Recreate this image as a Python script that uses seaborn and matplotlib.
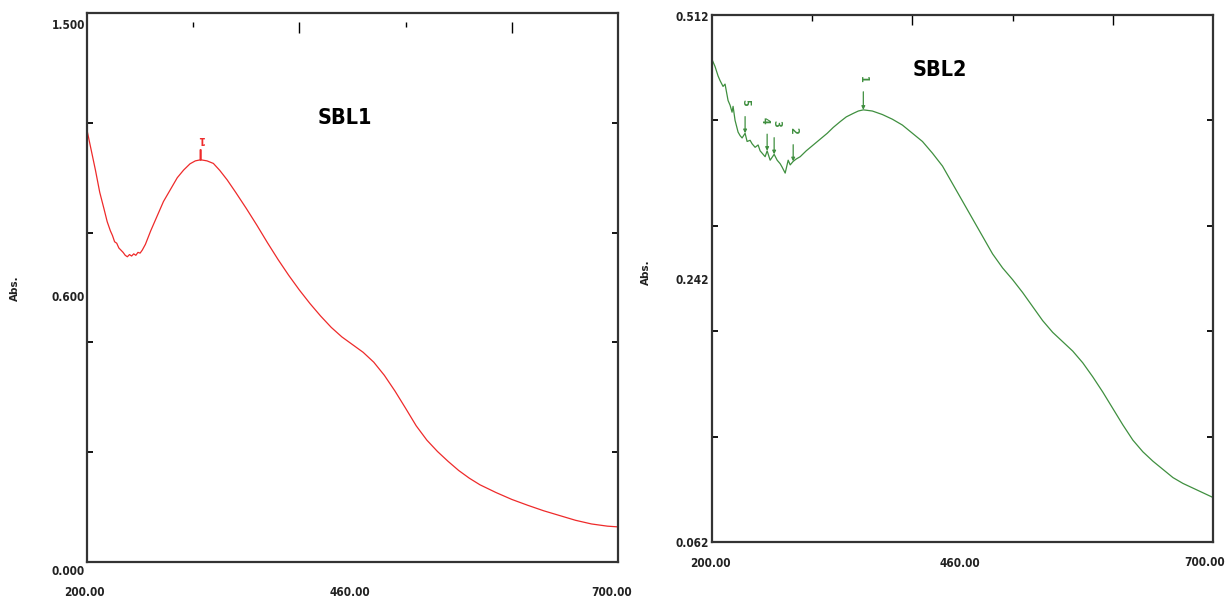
import numpy as np
import pandas as pd
import matplotlib
matplotlib.use('Agg')
import matplotlib.pyplot as plt
import matplotlib.transforms as mtransforms
from matplotlib import font_manager
import seaborn as sns

# SBL1 spectrum (wavelength nm, absorbance)
sbl1_nm = [200, 204, 208, 212, 216, 219, 222, 224, 226, 228, 230, 232, 234, 236, 238, 240,
           242, 244, 246, 248, 250, 252, 255, 260, 266, 272, 279, 285, 291, 297, 302, 307,
           313, 319, 325, 332, 340, 350, 360, 370, 380, 390, 400, 410, 420, 430, 440, 450,
           460, 470, 480, 490, 500, 510, 520, 530, 540, 550, 560, 570, 585, 600, 615, 630,
           645, 660, 675, 690, 700]
sbl1_abs = [1.180, 1.125, 1.070, 1.010, 0.965, 0.930, 0.905, 0.892, 0.875, 0.871, 0.858, 0.852,
            0.846, 0.838, 0.834, 0.840, 0.836, 0.842, 0.838, 0.846, 0.844, 0.852, 0.868, 0.905,
            0.945, 0.985, 1.020, 1.050, 1.071, 1.088, 1.096, 1.099, 1.096, 1.089, 1.070, 1.044,
            1.010, 0.966, 0.920, 0.872, 0.826, 0.783, 0.743, 0.706, 0.672, 0.641, 0.615, 0.594,
            0.573, 0.546, 0.510, 0.467, 0.420, 0.372, 0.333, 0.302, 0.275, 0.250, 0.229, 0.211,
            0.190, 0.171, 0.155, 0.140, 0.127, 0.114, 0.104, 0.098, 0.096]

# SBL2 spectrum
sbl2_nm = [200, 203, 206, 208, 211, 213, 216, 218, 220, 221, 223, 226, 228, 230, 233, 235,
           238, 240, 243, 246, 248, 250, 253, 255, 258, 262, 265, 268, 270, 273, 276, 278,
           281, 284, 288, 294, 301, 308, 315, 321, 328, 334, 341, 346, 351, 360, 370, 380,
           390, 400, 410, 420, 430, 440, 450, 460, 470, 480, 490, 500, 510, 520, 530, 540,
           550, 560, 570, 580, 590, 600, 610, 620, 630, 640, 650, 660, 670, 680, 690, 700]
sbl2_abs = [0.474, 0.468, 0.460, 0.456, 0.451, 0.453, 0.439, 0.435, 0.429, 0.434, 0.422, 0.412,
            0.409, 0.407, 0.411, 0.404, 0.405, 0.402, 0.399, 0.401, 0.396, 0.394, 0.391, 0.396,
            0.388, 0.393, 0.388, 0.385, 0.382, 0.377, 0.388, 0.384, 0.387, 0.389, 0.391, 0.396,
            0.401, 0.406, 0.411, 0.416, 0.421, 0.425, 0.428, 0.430, 0.431, 0.430, 0.427, 0.423,
            0.418, 0.411, 0.404, 0.394, 0.383, 0.368, 0.353, 0.338, 0.323, 0.308, 0.296, 0.286,
            0.275, 0.263, 0.251, 0.241, 0.233, 0.225, 0.215, 0.203, 0.190, 0.176, 0.162, 0.149,
            0.139, 0.131, 0.124, 0.117, 0.112, 0.108, 0.104, 0.100]

# peak picks
sbl1_peak_nm = [307]
sbl1_peak_abs = [1.099]
sbl1_peak_lbl = ['1']

sbl2_peak_nm = [351, 281, 262, 255, 233]
sbl2_peak_abs = [0.431, 0.387, 0.393, 0.396, 0.411]
sbl2_peak_lbl = ['1', '2', '3', '4', '5']

# instrument style axis labels
sbl1_ylabels = ['1.500', '0.600', '0.000']
sbl2_ylabels = ['0.512', '0.242', '0.062']
x_labels = ['200.00', '460.00', '700.00']

sns.set_theme(style='white')

# narrow bold face like the instrument print-out, if one is around
installed = font_manager.fontManager.ttflist
names = {f.name for f in installed}
stretch = 'normal'
if 'Liberation Sans Narrow' in names:
    lab_family = ['Liberation Sans Narrow', 'DejaVu Sans']
    lab_size = 9.5
elif any(f.name == 'DejaVu Sans' and 'ondensed' in str(f.stretch) + f.fname for f in installed):
    lab_family = ['DejaVu Sans']
    stretch = 'condensed'
    lab_size = 8.5
else:
    lab_family = ['Liberation Sans', 'DejaVu Sans']
    lab_size = 8.5
plt.rcParams['font.family'] = lab_family
plt.rcParams['font.weight'] = 'bold'

RED = '#ee2a2a'
GREEN = '#3f8f3f'
SPINE = '#333333'
TXT = '#222222'

fig = plt.figure(figsize=(12.27, 6.02), dpi=100)
ax1 = fig.add_axes([0.0709, 0.0664, 0.4328, 0.9120])
ax2 = fig.add_axes([0.5803, 0.0997, 0.4083, 0.8754])

df1 = pd.DataFrame({'nm': sbl1_nm, 'abs': sbl1_abs})
df2 = pd.DataFrame({'nm': sbl2_nm, 'abs': sbl2_abs})
sns.lineplot(data=df1, x='nm', y='abs', ax=ax1, color=RED, linewidth=0.9, estimator=None)
sns.lineplot(data=df2, x='nm', y='abs', ax=ax2, color=GREEN, linewidth=0.9, estimator=None)

ax1.set_xlim(200, 700)
ax1.set_ylim(0.0, 1.5)
ax2.set_xlim(200, 700)
ax2.set_ylim(0.062, 0.512)

for ax, yt in [(ax1, [0.3, 0.6, 0.9, 1.2]), (ax2, [0.152, 0.242, 0.332, 0.422])]:
    ax.set_xlabel('')
    ax.set_ylabel('')
    ax.set_xticks([])
    ax.set_yticks(yt)
    ax.set_yticklabels([])
    ax.tick_params(axis='y', direction='in', left=True, right=True, length=4.5, width=1.3,
                   color='black')
    for s in ax.spines.values():
        s.set_color(SPINE)
        s.set_linewidth(1.6)
        s.set_visible(True)
    ax.grid(False)

# top wavelength ticks
trans1 = mtransforms.blended_transform_factory(ax1.transData, ax1.transAxes)
ax1.vlines([300, 500], 0.9745, 0.9836, transform=trans1, color='black', lw=1.0)
ax1.vlines([400, 600], 0.9636, 0.9836, transform=trans1, color='black', lw=1.0)
trans2 = mtransforms.blended_transform_factory(ax2.transData, ax2.transAxes)
ax2.vlines([300, 500], 0.989, 1.0, transform=trans2, color='black', lw=1.0)
ax2.vlines([400, 600], 0.981, 1.0, transform=trans2, color='black', lw=1.0)

# tick label text
txt_kw = dict(fontsize=lab_size, fontweight='bold', color=TXT, fontstretch=stretch)
for ax, ylabs, ypos, xoff, xly in [(ax1, sbl1_ylabels, [0.978, 0.481, -0.018], -0.004, -0.055),
                                   (ax2, sbl2_ylabels, [0.996, 0.497, -0.002], -0.006, -0.040)]:
    for lbl, yp in zip(ylabs, ypos):
        ax.text(xoff, yp, lbl, transform=ax.transAxes, ha='right', va='center', **txt_kw)
    for lbl, xp in zip(x_labels[:2], [-0.004, 0.495]):
        ax.text(xp, xly, lbl, transform=ax.transAxes, ha='center', va='center', **txt_kw)
ax1.text(632 / 1227, 1 - 592 / 602, x_labels[2], transform=fig.transFigure, ha='right',
         va='center', **txt_kw)
ax2.text(1225 / 1227, 1 - 563 / 602, x_labels[2], transform=fig.transFigure, ha='right',
         va='center', **txt_kw)

fig.text(15 / 1227, 1 - 288 / 602, 'Abs.', rotation=90, ha='center', va='center',
         fontsize=7.5, fontweight='bold', color=TXT)
fig.text(646 / 1227, 1 - 272 / 602, 'Abs.', rotation=90, ha='center', va='center',
         fontsize=7.5, fontweight='bold', color=TXT)

ax1.text(345 / 1227, 1 - 118 / 602, 'SBL1', transform=fig.transFigure, ha='center',
         va='center', fontsize=15.5, fontweight='bold', color='black', fontstretch=stretch)
ax2.text(940 / 1227, 1 - 70 / 602, 'SBL2', transform=fig.transFigure, ha='center',
         va='center', fontsize=15.5, fontweight='bold', color='black', fontstretch=stretch)

# peak markers
for x, y, lbl in zip(sbl1_peak_nm, sbl1_peak_abs, sbl1_peak_lbl):
    ax1.annotate('', xy=(x, y), xytext=(0, 7), textcoords='offset points',
                 arrowprops=dict(arrowstyle='-', color=RED, lw=1.6, shrinkA=0, shrinkB=0))
    ax1.annotate(lbl, xy=(x, y), xytext=(0, 15), textcoords='offset points', ha='center',
                 va='center', rotation=180, fontsize=7, color=RED, fontweight='bold')

# small sideways nudges so the close picks 3 and 4 don't collide
label_dx = {'1': 0, '2': 0, '3': 1.6, '4': -1.6, '5': 0}
for i, (x, y, lbl) in enumerate(zip(sbl2_peak_nm, sbl2_peak_abs, sbl2_peak_lbl)):
    length = 13 if i == 0 else 12
    ax2.annotate('', xy=(x, y), xytext=(0, length), textcoords='offset points',
                 arrowprops=dict(arrowstyle='-|>', color=GREEN, lw=0.9, shrinkA=0, shrinkB=0,
                                 mutation_scale=5))
    ax2.annotate(lbl, xy=(x, y), xytext=(label_dx[lbl], length + 10 if i else length + 9),
                 textcoords='offset points', ha='center', va='center', rotation=270,
                 fontsize=7, color=GREEN, fontweight='bold')

fig.savefig('out.png', dpi=100, facecolor='white')
